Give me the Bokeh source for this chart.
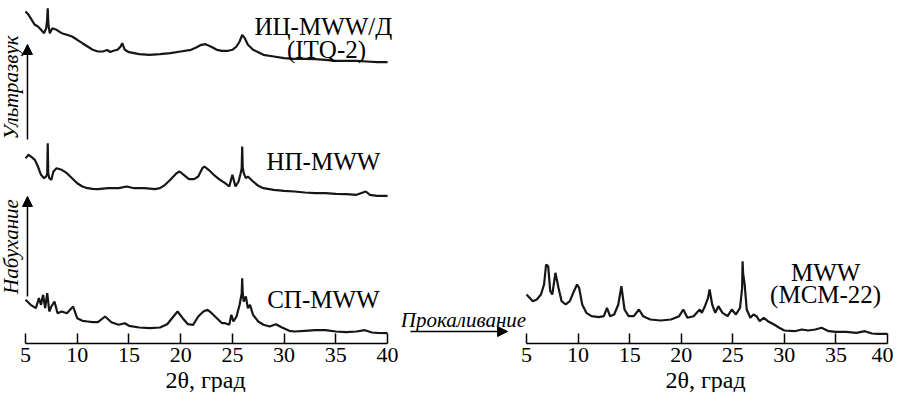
import math
from bokeh.plotting import figure
from bokeh.models import Range1d, FixedTicker, Label, Arrow, NormalHead, Title
from bokeh.layouts import row
from bokeh.embed import file_html
from bokeh.resources import INLINE

# ---------------- data (2theta, intensity in arbitrary units) ----------------
tick_values = [5, 10, 15, 20, 25, 30, 35, 40]
axis_title = "2θ, град"

# ITQ-2 (ИЦ-MWW/Д), top trace of left panel
itq_x = [5.0, 5.3, 5.6, 5.9, 6.2, 6.5, 6.8, 7.0, 7.08, 7.15, 7.22, 7.35, 7.6, 8.0, 8.5, 9.0,
         9.5, 10, 10.5, 11, 11.5, 12, 12.5, 12.9, 13.2, 13.5, 13.9, 14.2, 14.35, 14.6, 15,
         16, 17, 18, 19, 20, 21, 21.5, 22, 22.4, 22.9, 23.5, 24, 24.6, 25, 25.4, 25.7,
         25.95, 26.2, 26.5, 27, 27.5, 28, 29, 30, 31, 32, 33, 34, 35, 36, 37, 38, 39, 40]
itq_y = [62, 58.7, 53.7, 48.7, 47, 43.7, 40.3, 45.3, 52, 65.3, 48, 40.3, 45.3, 43.7, 40.3, 38.7,
         37, 33.7, 30.3, 27, 23.7, 22, 22, 23.5, 21.5, 22.7, 23.7, 27, 30.3, 23.7, 21.3,
         19.3, 18.7, 19.3, 20.3, 22, 23.7, 26, 28.7, 29.3, 27, 23.7, 22.7, 22.7, 23.7, 27, 32,
         38.7, 35.3, 28.7, 23.7, 21.3, 18.7, 17, 15.3, 14.7, 14.7, 14.3, 13.7, 12.7, 12.7, 12.7, 12, 11.3, 11.3]
itq_offset = 270

# НП-MWW, middle trace of left panel
np_x = [5.0, 5.3, 5.6, 5.9, 6.2, 6.5, 6.8, 7.0, 7.1, 7.15, 7.2, 7.3, 7.5, 7.7, 8.0, 8.5,
        9.0, 9.5, 10, 10.5, 11, 11.5, 12, 13, 14, 14.8, 15.5, 16.5, 17.5, 18, 18.5, 19,
        19.6, 19.9, 20.3, 20.8, 21.3, 21.7, 22.1, 22.3, 22.7, 23.2, 23.8, 24.3, 24.7, 25.0,
        25.3, 25.6, 25.8, 25.9, 25.95, 26.0, 26.1, 26.3, 26.5, 27, 27.5, 28, 29, 30, 31, 32,
        33, 34, 35, 36, 37, 37.9, 38.3, 39, 40]
np_y = [45.3, 48.7, 46.3, 43.7, 37, 28.7, 25.3, 27, 30, 60.3, 30, 25.3, 23.7, 32, 35.3, 33.7,
        30.3, 25.3, 20.3, 17, 15.3, 14.7, 14.3, 15.3, 15.3, 17, 15.3, 15.3, 14.3, 15.3, 18.7, 23.7,
        30.3, 32, 28.7, 24.3, 24.3, 27, 35.3, 37, 33.7, 28.7, 23.7, 20.3, 17, 28.7,
        17, 22, 30.3, 35, 57, 36, 30.3, 25.3, 27, 22, 17.7, 15.3, 13.7, 12.7, 12, 11,
        10.3, 10.3, 9.7, 9.3, 8.7, 12, 8.7, 7.7, 7.7]
np_offset = 140

# СП-MWW, bottom trace of left panel
sp_x = [5.0, 5.5, 6.0, 6.3, 6.5, 6.7, 6.9, 7.1, 7.3, 7.5, 7.8, 8.1, 8.5, 9.0, 9.6, 10,
        10.5, 11, 11.5, 12, 12.7, 13.3, 14, 14.6, 15, 16, 17, 18, 18.7, 19.3, 19.7, 20.2,
        20.7, 21.2, 21.7, 22.2, 22.6, 23, 23.5, 24, 24.3, 24.7, 24.9, 25.1, 25.4, 25.7,
        25.9, 25.95, 26.0, 26.1, 26.3, 26.5, 26.7, 27, 27.5, 28, 28.6, 29.2, 29.8, 30.5,
        31, 32, 33, 34, 35, 36, 37, 37.8, 38.5, 39, 40]
sp_y = [43.7, 38.7, 35.3, 45.3, 38.7, 48.7, 35.3, 50.3, 32, 37, 42, 30.3, 32, 30.3, 37, 25.3,
        22.7, 22, 21.3, 21.3, 27, 21.3, 18.7, 20.3, 17.7, 16, 15.3, 16, 19.3, 27, 32, 25.3,
        19.3, 18.7, 27, 32, 33.7, 30.3, 25.3, 20.3, 20.3, 18.7, 28.7, 22, 27, 38.7,
        50, 65.3, 50, 42, 47, 35.3, 38.7, 28.7, 22, 18.7, 17, 19.3, 16, 12.7,
        12, 12.7, 13.3, 13.3, 12, 11.3, 12, 13.3, 11, 10.7, 10.3]
sp_offset = 0

# MWW (MCM-22), right panel
mcm_x = [5.0, 5.3, 5.6, 6.0, 6.4, 6.7, 6.9, 7.1, 7.3, 7.5, 7.8, 8.1, 8.4, 8.8, 9.2, 9.6,
         9.9, 10.1, 10.4, 10.8, 11.3, 12, 12.5, 12.8, 13.1, 13.5, 13.9, 14.2, 14.5, 14.9,
         15.4, 15.9, 16.3, 17, 18, 19, 19.8, 20.2, 20.6, 21.2, 21.5, 21.8, 22.0, 22.3, 22.6,
         22.75, 23.0, 23.3, 23.6, 24.0, 24.5, 24.9, 25.3, 25.7, 25.9, 25.95, 26.0, 26.15,
         26.35, 26.7, 27.0, 27.3, 27.6, 28.0, 28.4, 29, 29.5, 30, 31, 31.7, 32.3, 33, 33.6,
         34.3, 35, 36, 37, 37.8, 38.5, 39, 40]
mcm_y = [49, 45.7, 42.3, 44, 49, 59, 79, 77.3, 52.3, 49, 70.7, 55.7, 42.3, 39, 42.3, 52.3,
         59, 55.7, 39, 30.7, 27.3, 26.3, 27.3, 35.7, 27.3, 29, 39, 57.3, 34, 27.3,
         27.3, 34, 27.3, 24, 23, 24, 27.3, 34, 25.7, 27.3, 30.7, 34, 30.7, 37.3, 45.7,
         54, 39, 30.7, 37.3, 30.7, 27.3, 34, 29, 35.7, 55, 82.3, 70, 59,
         34, 25.7, 29, 27.3, 22.3, 25.7, 22.3, 19, 15.7, 13, 12.3, 14, 13, 14, 15.7,
         12.3, 11.7, 11.7, 10.7, 12.3, 10, 9.7, 9.7]

FONT = "Liberation Serif"
INK = "#161616"
FRAME_H = 343


def make_fig(xr, fw, title_offset):
    p = figure(frame_width=fw, frame_height=FRAME_H, x_range=xr, y_range=Range1d(0, FRAME_H),
               output_backend="svg", toolbar_location=None,
               min_border_left=0, min_border_right=0, min_border_top=0, min_border_bottom=0)
    p.outline_line_color = None
    p.grid.visible = False
    p.yaxis.visible = False
    ax = p.xaxis[0]
    ax.ticker = FixedTicker(ticks=tick_values)
    ax.bounds = (tick_values[0], tick_values[-1])
    ax.major_tick_in = 10
    ax.major_tick_out = 0
    ax.minor_tick_line_color = None
    ax.axis_line_width = 1.5
    ax.major_tick_line_width = 1.5
    ax.axis_line_color = "black"
    ax.major_tick_line_color = "black"
    ax.major_label_text_font = FONT
    ax.major_label_text_font_size = "22px"
    ax.major_label_text_color = "black"
    ax.major_label_standoff = 4
    # axis title, centred under the axis span (a Title lets it sit off the frame centre)
    p.add_layout(Title(text=axis_title, align="left", offset=title_offset, standoff=0,
                       text_font=FONT, text_font_size="24px", text_font_style="normal",
                       text_color="black"), "below")
    return p


def name(p, x, y, txt, size="25px", style="normal"):
    p.add_layout(Label(x=x, y=y, text=txt, text_font=FONT, text_font_size=size,
                       text_font_style=style, text_align="center",
                       text_baseline="alphabetic", text_color="black"))


# ---------------- left panel ----------------
p1 = make_fig(Range1d(2.583, 41.35), 401, 165)
for xs, ys, off in [(itq_x, itq_y, itq_offset), (np_x, np_y, np_offset), (sp_x, sp_y, sp_offset)]:
    p1.line(xs, [v + off for v in ys], line_color=INK, line_width=2.2)

name(p1, 33.8, 317, "ИЦ-MWW/Д")
name(p1, 34.1, 294, "(ITQ-2)")
name(p1, 33.8, 182, "НП-MWW")
name(p1, 33.8, 44.5, "СП-MWW")

head = dict(size=10, fill_color="black", line_color="black")
p1.add_layout(Arrow(end=NormalHead(**head), x_start=5.19, y_start=204, x_end=5.19, y_end=299,
                    line_width=1.5, line_color="black"))
p1.add_layout(Arrow(end=NormalHead(**head), x_start=5.19, y_start=47, x_end=5.19, y_end=147,
                    line_width=1.5, line_color="black"))
p1.add_layout(Label(x=3.55, y=256, text="Ультразвук", angle=math.pi / 2, text_font=FONT,
                    text_font_size="21px", text_font_style="italic", text_align="center",
                    text_baseline="middle", text_color="black"))
p1.add_layout(Label(x=3.55, y=97, text="Набухание", angle=math.pi / 2, text_font=FONT,
                    text_font_size="21px", text_font_style="italic", text_align="center",
                    text_baseline="middle", text_color="black"))

# ---------------- right panel ----------------
p2 = make_fig(Range1d(-7.12, 40.58), 492, 264)
p2.line(mcm_x, mcm_y, line_color=INK, line_width=2.2)
name(p2, 34.0, 71, "MWW")
name(p2, 34.0, 49, "(MCM-22)")
p2.add_layout(Arrow(end=NormalHead(**head), x_start=-6.25, y_start=12, x_end=3.16, y_end=12,
                    line_width=1.5, line_color="black"))
p2.add_layout(Label(x=-1.11, y=24, text="Прокаливание", text_font=FONT, text_font_size="21px",
                    text_font_style="italic", text_align="center", text_baseline="alphabetic",
                    text_color="black"))

layout = row(p1, p2, spacing=0)
open("out.html", "w").write(file_html(layout, INLINE))
